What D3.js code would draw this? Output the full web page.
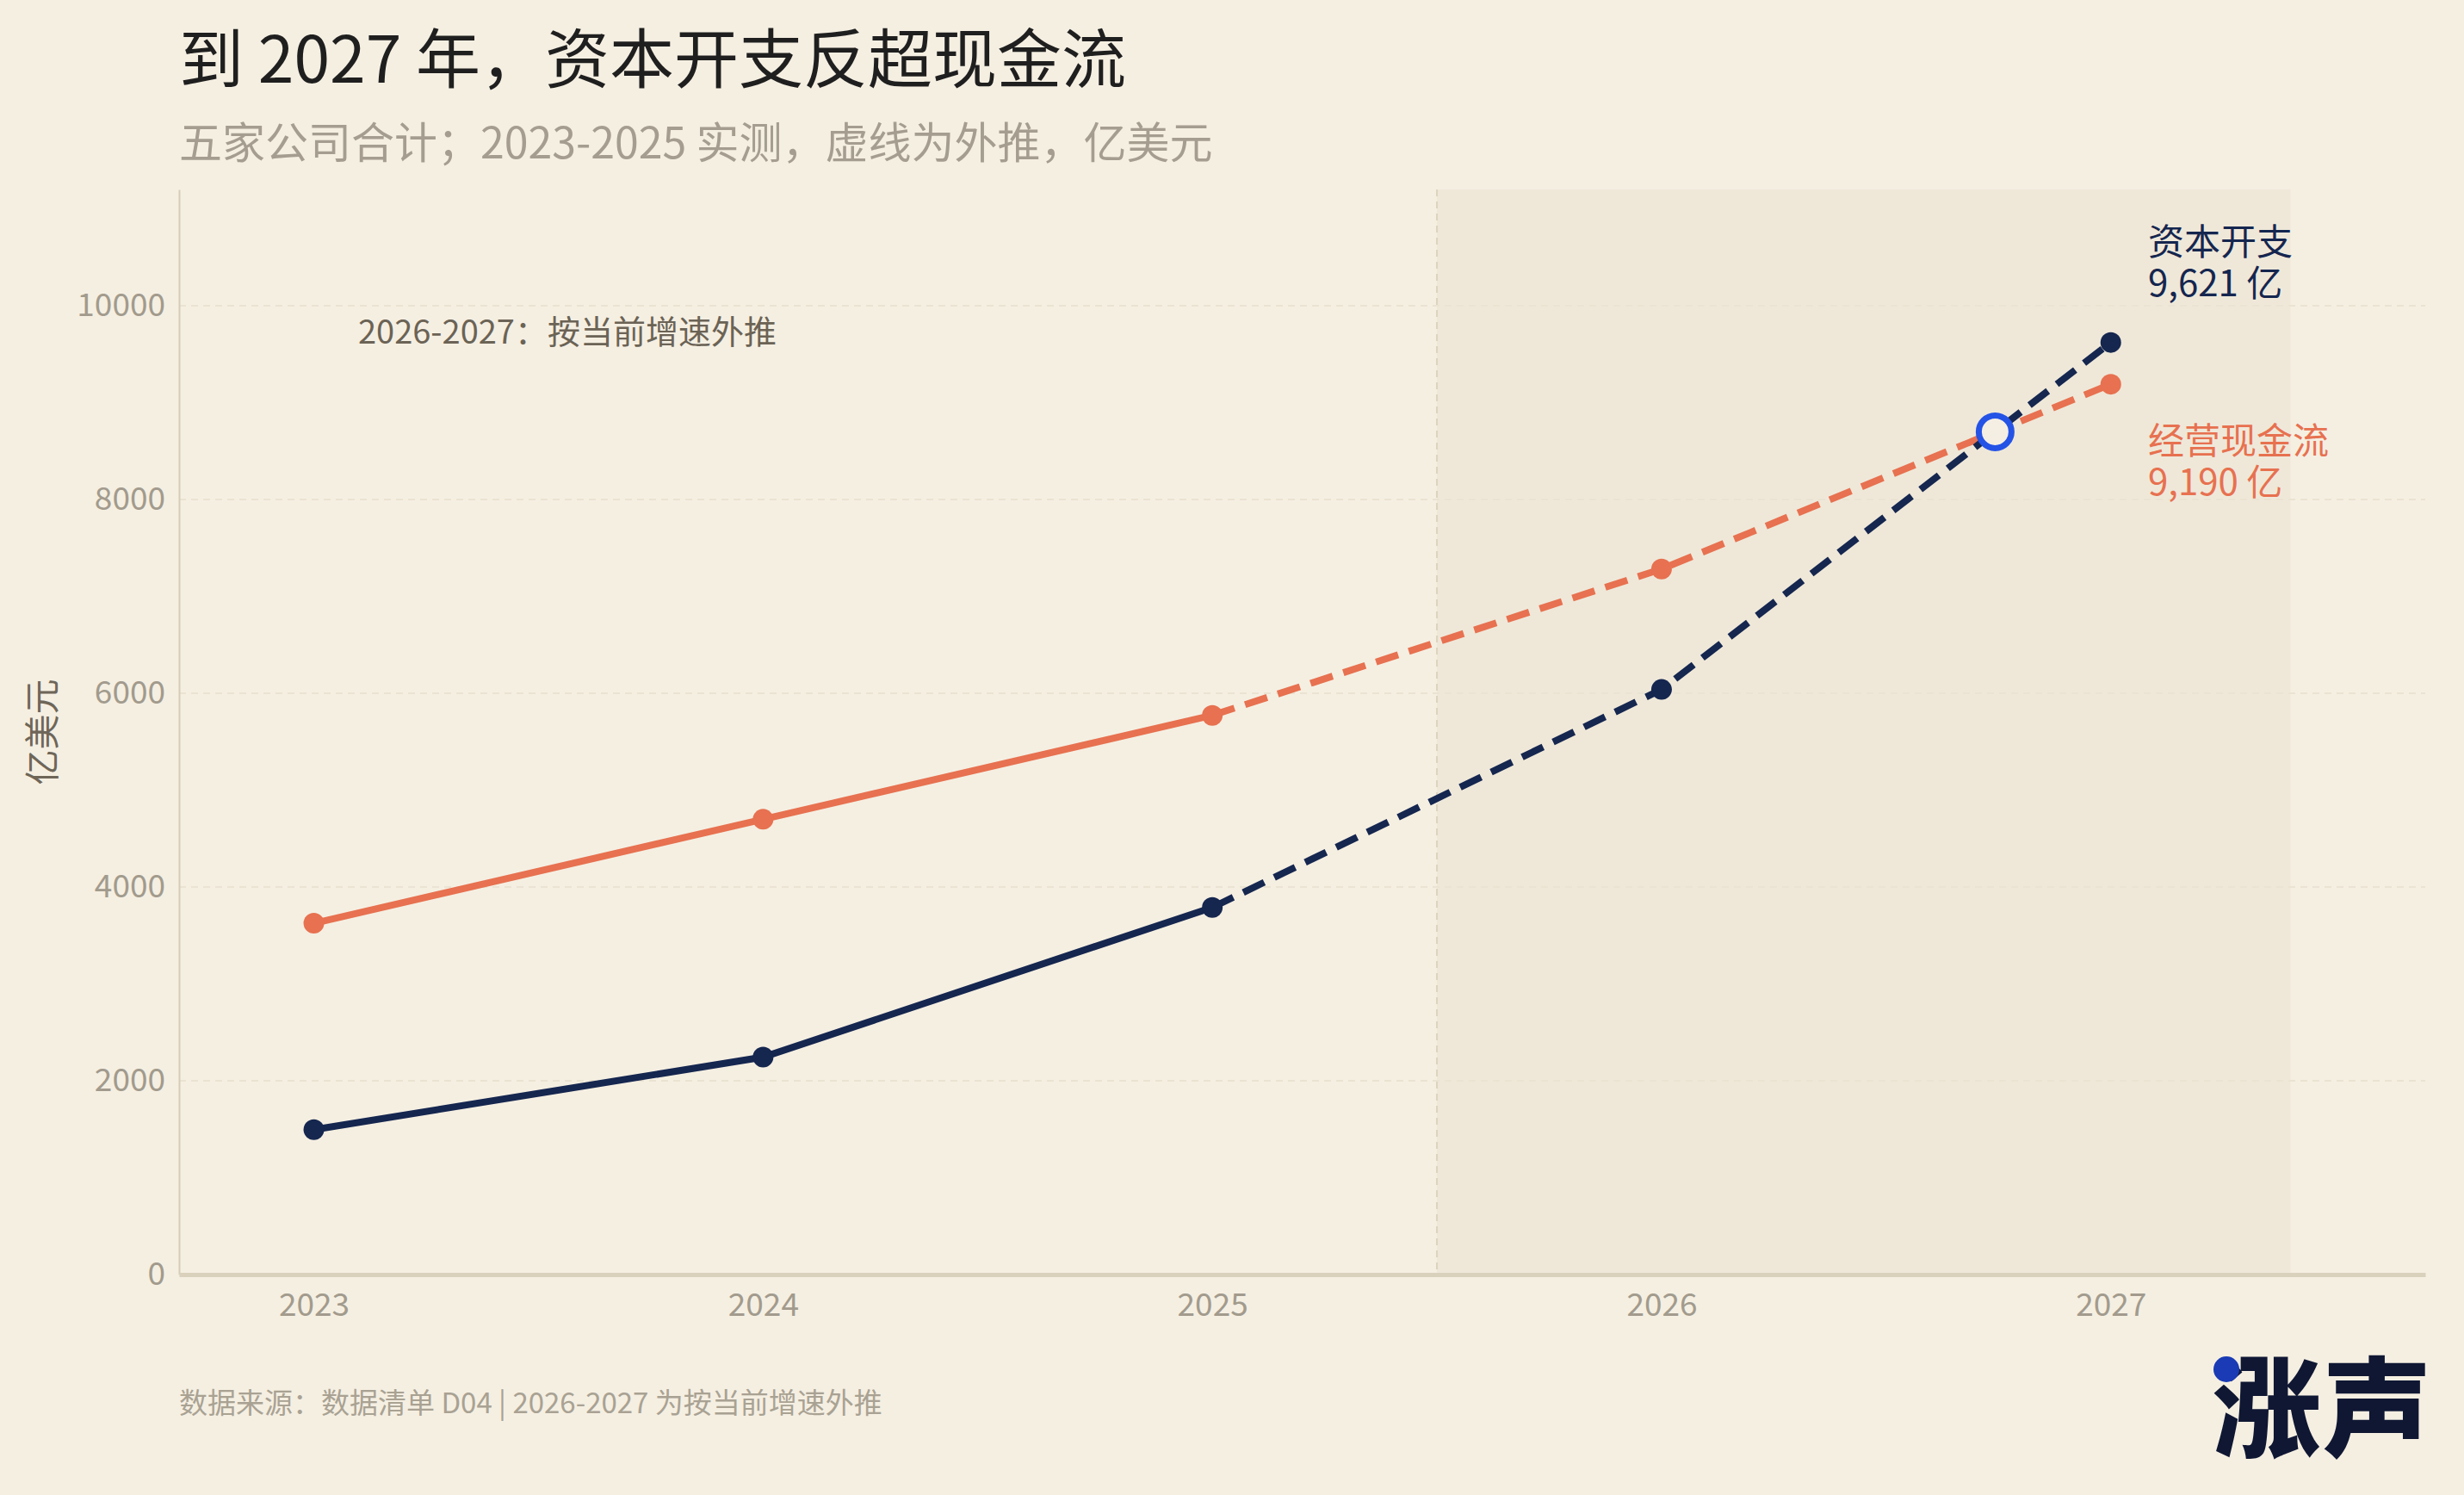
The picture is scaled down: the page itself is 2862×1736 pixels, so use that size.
<!DOCTYPE html>
<html>
<head>
<meta charset="utf-8">
<script src="https://cdn.jsdelivr.net/npm/d3@7/dist/d3.min.js"></script>
<style>
  html, body { margin: 0; padding: 0; background: #f5efe2; }
  svg { display: block; }
  text { font-family: "Noto Sans CJK SC", "Noto Sans", sans-serif; }
</style>
</head>
<body>
<script>
// ---- data ----
const years = [2023, 2024, 2025, 2026, 2027];
const capex = [1496, 2244, 3789, 6039, 9621];
const ocf   = [3626, 4699, 5772, 7282, 9190];
const lastActualYear = 2025;
const yTicks = [0, 2000, 4000, 6000, 8000, 10000];
const seriesNames = ["资本开支", "经营现金流"];
const endLabels = ["9,621 亿", "9,190 亿"];

const W = 2862, H = 1736;
const margin = { left: 208, right: 2817, top: 220, bottom: 1480 };
const bg = "#f5efe2";
const navy = "#15264f";
const orange = "#e77150";

const svg = d3.select("body").append("svg").attr("width", W).attr("height", H);
svg.append("rect").attr("width", W).attr("height", H).attr("fill", bg);

const x = d3.scaleLinear().domain([2022.7, 2027.7]).range([margin.left, margin.right]);
const y = d3.scaleLinear().domain([0, 11200]).range([margin.bottom, margin.top]);

// forecast shading
svg.append("rect")
  .attr("x", x(2025.5)).attr("y", margin.top)
  .attr("width", x(2027.4) - x(2025.5)).attr("height", margin.bottom - margin.top)
  .attr("fill", "#efe8d9");

// gridlines
svg.append("g").selectAll("line").data(yTicks.filter(d => d > 0)).join("line")
  .attr("x1", margin.left).attr("x2", margin.right)
  .attr("y1", d => y(d)).attr("y2", d => y(d))
  .attr("stroke", "#ebe3d2").attr("stroke-width", 2).attr("stroke-dasharray", "8,6");

// divider
svg.append("line")
  .attr("x1", x(2025.5)).attr("x2", x(2025.5))
  .attr("y1", margin.top).attr("y2", margin.bottom)
  .attr("stroke", "#dcd3bf").attr("stroke-width", 2).attr("stroke-dasharray", "8,6");

// axes
const yAxis = d3.axisLeft(y).tickValues(yTicks).tickSize(0).tickPadding(16).tickFormat(d3.format("d"));
const gy = svg.append("g").attr("transform", `translate(${margin.left},0)`).call(yAxis);
gy.select(".domain").attr("stroke", "#d6cdb6").attr("stroke-width", 2);
gy.selectAll("text").attr("fill", "#a29b8d").attr("font-size", 37);

const xAxis = d3.axisBottom(x).tickValues(years).tickSize(0).tickPadding(22).tickFormat(d3.format("d"));
const gx = svg.append("g").attr("transform", `translate(0,${margin.bottom})`).call(xAxis);
gx.select(".domain").attr("stroke", "#d9d1bb").attr("stroke-width", 5);
gx.selectAll("text").attr("fill", "#a29b8d").attr("font-size", 37);

// y label
svg.append("text")
  .attr("transform", `translate(64,${(margin.top + margin.bottom) / 2}) rotate(-90)`)
  .attr("text-anchor", "middle").attr("fill", "#6e6658").attr("font-size", 41)
  .text("亿美元");

// lines
const line = d3.line().x(d => x(d[0])).y(d => y(d[1]));
function drawSeries(vals, color) {
  const pts = years.map((yr, i) => [yr, vals[i]]);
  const actual = pts.filter(p => p[0] <= lastActualYear);
  const fc = pts.filter(p => p[0] >= lastActualYear);
  svg.append("path").datum(actual).attr("d", line)
    .attr("fill", "none").attr("stroke", color).attr("stroke-width", 8).attr("stroke-linecap", "round");
  svg.append("path").datum(fc).attr("d", line)
    .attr("fill", "none").attr("stroke", color).attr("stroke-width", 8).attr("stroke-dasharray", "27,13");
  svg.append("g").selectAll("circle").data(pts).join("circle")
    .attr("cx", d => x(d[0])).attr("cy", d => y(d[1])).attr("r", 12).attr("fill", color);
}
drawSeries(ocf, orange);
drawSeries(capex, navy);

// crossover point (intersection of the two extrapolated segments 2026-2027)
const i0 = 3, i1 = 4;
const dC = capex[i1] - capex[i0], dO = ocf[i1] - ocf[i0];
const t = (ocf[i0] - capex[i0]) / (dC - dO);
const crossX = years[i0] + t * (years[i1] - years[i0]);
const crossY = capex[i0] + t * dC;
svg.append("circle").attr("cx", x(crossX)).attr("cy", y(crossY)).attr("r", 19)
  .attr("fill", "#f5efe3").attr("stroke", "#2453e6").attr("stroke-width", 7);

// end labels
const lx = 2495;
const capLab = svg.append("text").attr("fill", navy).attr("font-size", 42);
capLab.append("tspan").attr("x", lx).attr("y", 296).text(seriesNames[0]);
capLab.append("tspan").attr("x", lx).attr("y", 344).text(endLabels[0]);
const ocfLab = svg.append("text").attr("fill", orange).attr("font-size", 42);
ocfLab.append("tspan").attr("x", lx).attr("y", 527).text(seriesNames[1]);
ocfLab.append("tspan").attr("x", lx).attr("y", 575).text(endLabels[1]);

// annotation
svg.append("text").attr("x", 416).attr("y", 399).attr("fill", "#6b6355").attr("font-size", 38)
  .text("2026-2027：按当前增速外推");

// title & subtitle
svg.append("text").attr("x", 208).attr("y", 96).attr("fill", "#1f1f1f")
  .attr("font-size", 75).attr("font-weight", 400).text("到 2027 年，资本开支反超现金流");
svg.append("text").attr("x", 208).attr("y", 184).attr("fill", "#a59e90")
  .attr("font-size", 50).text("五家公司合计；2023-2025 实测，虚线为外推，亿美元");

// footer
svg.append("text").attr("x", 208).attr("y", 1641).attr("fill", "#a9a293")
  .attr("font-size", 33).text("数据来源：数据清单 D04 | 2026-2027 为按当前增速外推");

// logo
svg.append("text").attr("x", 2570).attr("y", 1682).attr("fill", "#0f1733")
  .attr("font-size", 126).attr("font-weight", 900).attr("letter-spacing", 2).text("涨声");
svg.append("circle").attr("cx", 2586).attr("cy", 1590).attr("r", 15).attr("fill", "#1a3bb5");
</script>
</body>
</html>
